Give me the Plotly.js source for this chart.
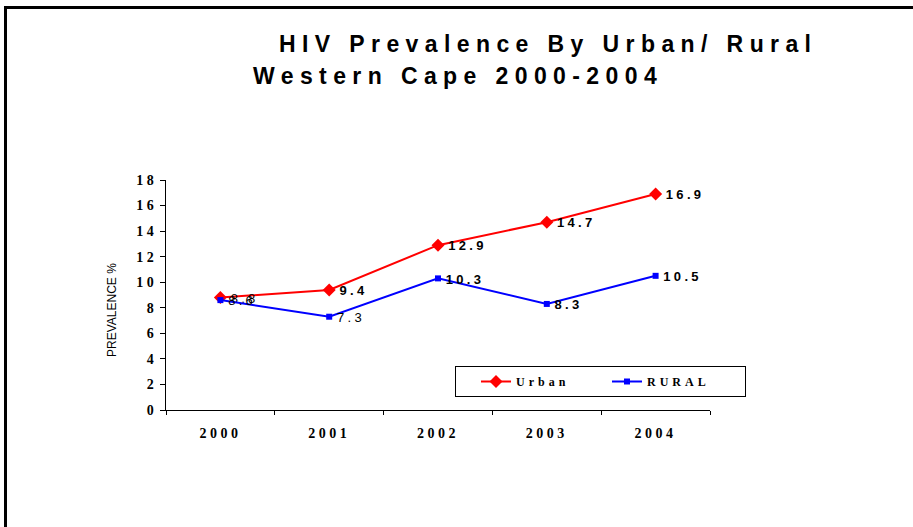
<!DOCTYPE html>
<html>
<head>
<meta charset="utf-8">
<script src="https://cdn.plot.ly/plotly-3.0.1.min.js"></script>
<style>
html, body { margin: 0; padding: 0; background: #fff; }
#frame { position: absolute; left: 4px; top: 6px; width: 920px; height: 530px; border-top: 3px solid #000; border-left: 3px solid #000; box-sizing: border-box; pointer-events: none; z-index: 5; }
#chart { position: absolute; left: 0; top: 0; width: 913px; height: 527px; }
#chart .ytick text, #chart .xtick text { letter-spacing: 3.5px; }
#chart .legendtext { letter-spacing: 4px; }
#chart .textpoint text { letter-spacing: 3.3px; transform: translate(3px, 2px); }
#chart .annotation.ttl .annotation-text { letter-spacing: 6.4px; }
</style>
</head>
<body>
<div id="chart"></div>
<div id="frame"></div>
<script>
const years = ['2000', '2001', '2002', '2003', '2004'];
const urban = [8.8, 9.4, 12.9, 14.7, 16.9];
const rural = [8.6, 7.3, 10.3, 8.3, 10.5];
const urbanWeights = [400, 700, 700, 700, 700];
const ruralWeights = [400, 400, 700, 700, 700];
const yTicks = [0, 2, 4, 6, 8, 10, 12, 14, 16, 18];
const titleLine1 = 'HIV Prevalence By Urban/ Rural';
const titleLine2 = 'Western Cape 2000-2004';
const yTitle = 'PREVALENCE %';

const sansFam = 'Arial, "Liberation Sans", sans-serif';
const serifFam = '"Times New Roman", "Liberation Serif", serif';

const traces = [
  {
    x: years, y: urban, name: 'Urban', type: 'scatter', mode: 'lines+markers+text',
    line: {color: '#FF0000', width: 2},
    marker: {symbol: 'diamond', size: 10, color: '#FF0000'},
    text: urban.map(v => v.toFixed(1)),
    textposition: 'middle right',
    textfont: {family: sansFam, size: 13, color: '#000', weight: urbanWeights},
    cliponaxis: false
  },
  {
    x: years, y: rural, name: 'RURAL', type: 'scatter', mode: 'lines+markers+text',
    line: {color: '#0000FF', width: 2},
    marker: {symbol: 'square', size: 6, color: '#0000FF'},
    text: rural.map(v => v.toFixed(1)),
    textposition: 'middle right',
    textfont: {family: sansFam, size: 13, color: '#000', weight: ruralWeights},
    cliponaxis: false
  }
];

const layout = {
  width: 913, height: 527,
  margin: {l: 166, r: 203, t: 180, b: 117},
  paper_bgcolor: '#fff', plot_bgcolor: '#fff',
  showlegend: true,
  legend: {
    orientation: 'h', x: (475 - 166) / 544, y: (410 - 366) / 230, xanchor: 'left', yanchor: 'top',
    bordercolor: '#000', borderwidth: 1, bgcolor: '#fff',
    font: {family: serifFam, size: 12, color: '#000', weight: 700},
    entrywidth: 86, entrywidthmode: 'pixels',
    itemwidth: 30
  },
  xaxis: {
    type: 'category', range: [-0.5, 4.5],
    showline: true, linecolor: '#000', linewidth: 1,
    ticks: 'outside', tickson: 'boundaries', ticklen: 4, tickcolor: '#000',
    ticklabelstandoff: 10,
    showgrid: false, zeroline: false,
    tickfont: {family: serifFam, size: 14, color: '#000', weight: 700}
  },
  yaxis: {
    range: [0, 18], tickvals: yTicks, ticktext: yTicks.map(String),
    showline: true, linecolor: '#000', linewidth: 1,
    ticks: 'outside', ticklen: 5, tickcolor: '#000',
    showgrid: false, zeroline: false,
    tickfont: {family: serifFam, size: 14, color: '#000', weight: 700}
  },
  annotations: [
    {text: titleLine1, xref: 'paper', yref: 'paper', x: (277 - 166) / 544, y: (410 - 44) / 230,
     xanchor: 'left', yanchor: 'middle', align: 'left', showarrow: false,
     font: {family: sansFam, size: 23, color: '#000', weight: 700}},
    {text: titleLine2, xref: 'paper', yref: 'paper', x: (251 - 166) / 544, y: (410 - 76) / 230,
     xanchor: 'left', yanchor: 'middle', align: 'left', showarrow: false,
     font: {family: sansFam, size: 23, color: '#000', weight: 700}},
    {text: yTitle, xref: 'paper', yref: 'paper', x: (112 - 166) / 544, y: (410 - 310) / 230,
     xanchor: 'center', yanchor: 'middle', textangle: -90, showarrow: false,
     font: {family: sansFam, size: 12, color: '#000'}}
  ]
};

Plotly.newPlot('chart', traces, layout, {displayModeBar: false, staticPlot: true}).then(function () {
  const anns = document.querySelectorAll('#chart .annotation');
  for (let i = 0; i < 2 && i < anns.length; i++) anns[i].classList.add('ttl');
  const bg = document.querySelector('#chart .legend rect.bg');
  if (bg) {
    const x0 = parseFloat(bg.getAttribute('x') || '0');
    const w0 = parseFloat(bg.getAttribute('width') || '0');
    bg.setAttribute('x', x0 - 20);
    bg.setAttribute('width', w0 + 27);
  }
});
</script>
</body>
</html>
